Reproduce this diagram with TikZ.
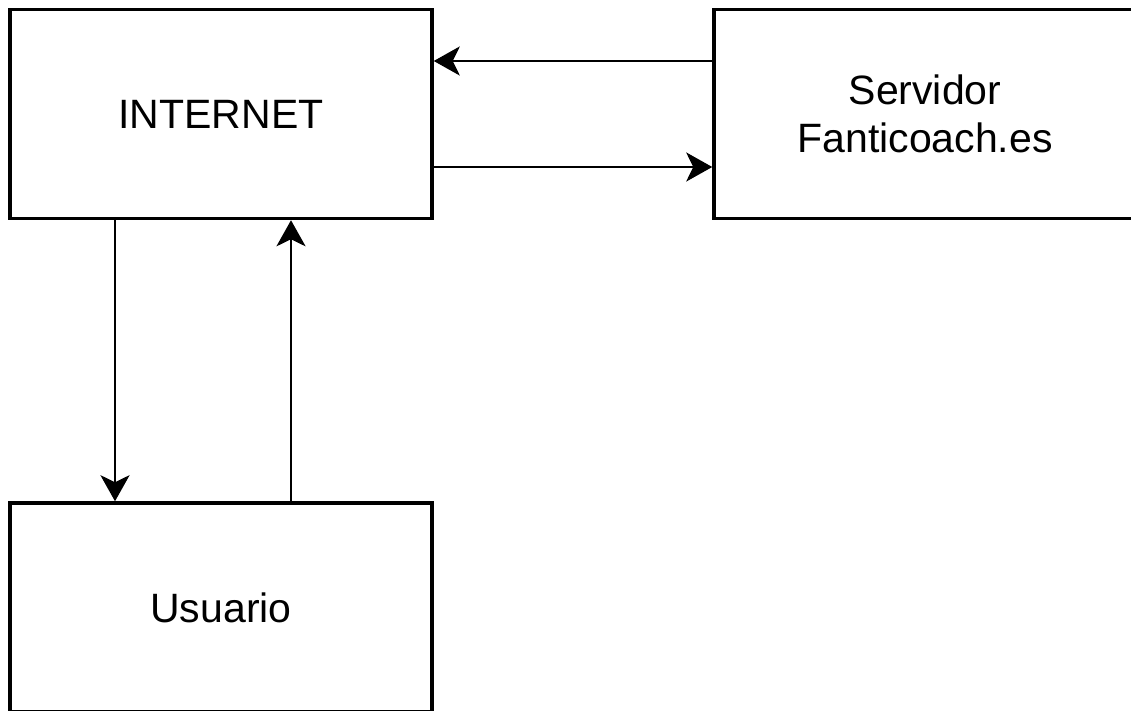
\documentclass[tikz,border=0pt]{standalone}
\usepackage{fontspec}
\setmainfont{Liberation Sans}
\usetikzlibrary{arrows.meta}
\begin{document}
\begin{tikzpicture}[x=1pt,y=-1pt,
  box/.style={draw=black, line width=3.5pt, minimum width=422pt, minimum height=209pt,
    inner sep=0pt, align=center, font=\fontsize{41}{48}\selectfont},
  link/.style={line width=2.8pt, -{Stealth[length=26pt,width=29pt,inset=7pt]}}]
\useasboundingbox (0,0) rectangle (1131,711);
\node[box] (inet) at (221,114) {INTERNET};
\node[box] (srv) at (925,114) {Servidor\\Fanticoach.es};
\node[box] (usr) at (221,607.5) {Usuario};
\draw[link] (srv.west |- 0,61) -- (inet.east |- 0,61);
\draw[link] (inet.east |- 0,167) -- (srv.west |- 0,167);
\draw[link] (inet.south -| 115,0) -- (usr.north -| 115,0);
\draw[link] (usr.north -| 291,0) -- (inet.south -| 291,0);
\end{tikzpicture}
\end{document}
